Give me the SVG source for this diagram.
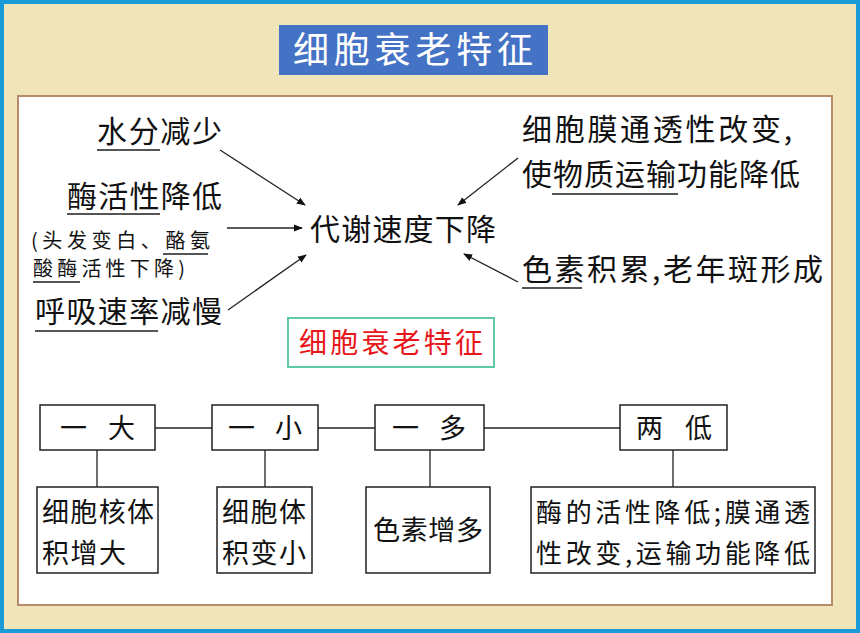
<svg xmlns="http://www.w3.org/2000/svg" width="860" height="633" viewBox="0 0 860 633">
<defs>
<style>
text{font-family:"Noto Sans CJK SC","Liberation Serif",serif;fill:#111}
.b{fill:#fff;stroke:#222;stroke-width:1.5}
.l{stroke:#222;stroke-width:1.3;fill:none}
.u{stroke:#555;stroke-width:2}
</style>
<marker id="a" viewBox="0 0 10 10" refX="9" refY="5" markerWidth="9" markerHeight="9" orient="auto" markerUnits="userSpaceOnUse"><path d="M0,1 L10,5 L0,9 Z" fill="#111"/></marker>
</defs>
<rect x="0" y="0" width="860" height="633" fill="#1a9ad6"/>
<rect x="4" y="4" width="852" height="625" fill="#efe5b8"/>
<rect x="18" y="96" width="814" height="509" fill="#fff" stroke="#b78a6a" stroke-width="2"/>
<g id="title"><rect x="279" y="25" width="269" height="50" fill="#4472c4"/><text x="293" y="63" font-size="36" textLength="240" style="fill:#fff">细胞衰老特征</text></g>
<g id="left">
<text x="97" y="142" font-size="30" textLength="125">水分减少</text>
<text x="67" y="207" font-size="30" textLength="155">酶活性降低</text>
<text x="31" y="248" font-size="20" textLength="179">(头发变白、酪氨</text>
<text x="33" y="276" font-size="20" textLength="152">酸酶活性下降)</text>
<text x="35" y="322" font-size="30" textLength="187">呼吸速率减慢</text>
</g>
<g id="center"><text x="310" y="240" font-size="30" textLength="186">代谢速度下降</text></g>
<g id="right">
<text x="522" y="140" font-size="30" textLength="270">细胞膜通透性改变,</text>
<text x="522" y="185" font-size="30" textLength="278">使物质运输功能降低</text>
<text x="522" y="280" font-size="30" textLength="301">色素积累,老年斑形成</text>
</g>
<g id="underlines" class="u">
<line x1="97" y1="150" x2="160" y2="150"/><line x1="67" y1="214" x2="160" y2="214"/>
<line x1="163" y1="254" x2="208" y2="254"/><line x1="33" y1="282" x2="80" y2="282"/>
<line x1="35" y1="331" x2="158" y2="331"/><line x1="552" y1="194" x2="678" y2="194"/>
<line x1="522" y1="288" x2="582" y2="288"/>
</g>
<g id="sub"><rect x="288" y="318" width="206" height="49" fill="#fff" stroke="#5fc9a8" stroke-width="2"/><text x="299" y="353" font-size="28" textLength="184" style="fill:#e8161b">细胞衰老特征</text></g>
<g id="connectors" class="l">
<line x1="220" y1="150" x2="305" y2="205" marker-end="url(#a)"/>
<line x1="227" y1="228" x2="302" y2="228" marker-end="url(#a)"/>
<line x1="228" y1="310" x2="306" y2="255" marker-end="url(#a)"/>
<line x1="518" y1="158" x2="458" y2="205" marker-end="url(#a)"/>
<line x1="518" y1="282" x2="464" y2="254" marker-end="url(#a)"/>
<line x1="155" y1="428" x2="212" y2="428"/><line x1="318" y1="428" x2="375" y2="428"/><line x1="484" y1="428" x2="620" y2="428"/>
<line x1="97" y1="450" x2="97" y2="487"/><line x1="265" y1="450" x2="265" y2="487"/><line x1="430" y1="450" x2="430" y2="487"/><line x1="673" y1="450" x2="673" y2="487"/>
</g>
<g id="n1"><rect class="b" x="40" y="405" width="115" height="45"/><text x="60" y="438" font-size="27" textLength="75">一 大</text></g>
<g id="n2"><rect class="b" x="212" y="405" width="106" height="45"/><text x="228" y="438" font-size="27" textLength="74">一 小</text></g>
<g id="n3"><rect class="b" x="375" y="405" width="109" height="45"/><text x="392" y="438" font-size="27" textLength="74">一 多</text></g>
<g id="n4"><rect class="b" x="620" y="405" width="107" height="45"/><text x="636" y="438" font-size="27" textLength="76">两 低</text></g>
<g id="n5"><rect class="b" x="37" y="487" width="121" height="86"/><text x="42" y="522" font-size="27" textLength="112">细胞核体</text><text x="42" y="563" font-size="27" textLength="84">积增大</text></g>
<g id="n6"><rect class="b" x="217" y="487" width="95" height="86"/><text x="222" y="522" font-size="27" textLength="84">细胞体</text><text x="222" y="563" font-size="27" textLength="84">积变小</text></g>
<g id="n7"><rect class="b" x="366" y="487" width="124" height="86"/><text x="373" y="540" font-size="27" textLength="110">色素增多</text></g>
<g id="n8"><rect class="b" x="531" y="487" width="284" height="86"/><text x="536" y="522" font-size="26" textLength="274">酶的活性降低;膜通透</text><text x="536" y="563" font-size="26" textLength="274">性改变,运输功能降低</text></g>
</svg>
